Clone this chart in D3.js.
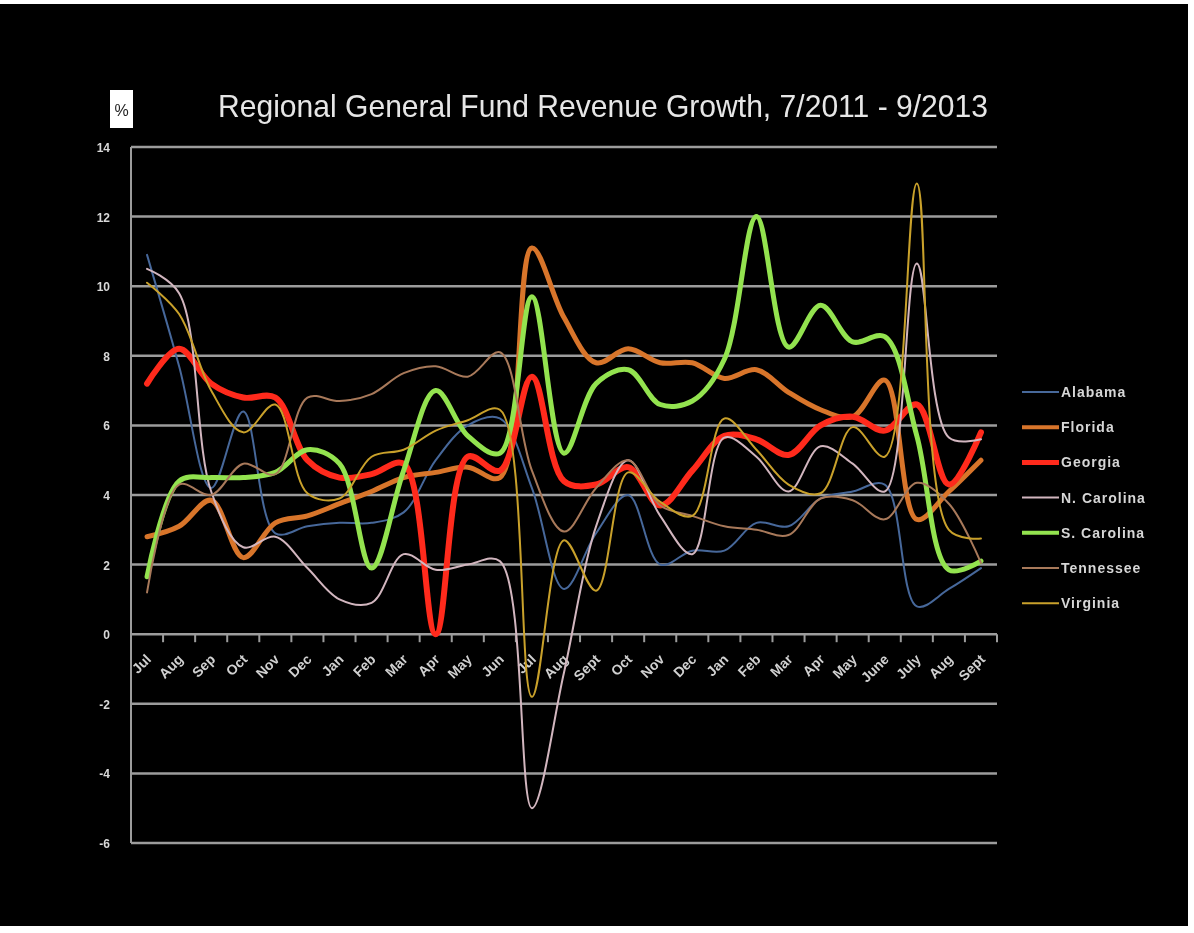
<!DOCTYPE html>
<html>
<head>
<meta charset="utf-8">
<script src="https://cdn.jsdelivr.net/npm/d3@7"></script>
<style>
    body { margin: 0; background: #fff; }
    svg { display: block; }
    text { font-family: "Liberation Sans", Arial, sans-serif; }
</style>
</head>
<body>
<div class="chart"></div>
<script>
// month labels, Jul 2011 .. Sep 2013
var months = ["Jul", "Aug", "Sep", "Oct", "Nov", "Dec", "Jan", "Feb", "Mar", "Apr", "May", "Jun",
    "Jul", "Aug", "Sept", "Oct", "Nov", "Dec", "Jan", "Feb", "Mar", "Apr", "May", "June", "July", "Aug", "Sept"];
var yTicks = [-6, -4, -2, 0, 2, 4, 6, 8, 10, 12, 14];

var states = ["Alabama", "Florida", "Georgia", "N. Carolina", "S. Carolina", "Tennessee", "Virginia"];

var alabama = [10.9, 7.7, 4.2, 6.4, 2.9, 3.1, 3.2, 3.2, 3.5, 5.0, 6.0, 6.2, 4.2, 1.3, 2.9, 4.0, 2.0, 2.4, 2.4, 3.2, 3.1, 3.9, 4.1, 4.3, 0.8, 1.3, 1.9];
var florida = [2.8, 3.1, 3.85, 2.2, 3.2, 3.4, 3.75, 4.1, 4.5, 4.65, 4.8, 4.5, 11.1, 9.1, 7.8, 8.2, 7.8, 7.8, 7.35, 7.6, 6.95, 6.45, 6.25, 7.3, 3.3, 4.1, 5.0];
var georgia = [7.2, 8.2, 7.2, 6.8, 6.8, 5.0, 4.5, 4.6, 4.9, 0.0, 5.1, 4.7, 7.4, 4.4, 4.3, 4.8, 3.7, 4.7, 5.7, 5.6, 5.15, 6.0, 6.25, 5.85, 6.6, 4.3, 5.8];
var nCarolina = [10.5, 9.8, 4.1, 2.5, 2.8, 1.9, 1.0, 0.9, 2.3, 1.85, 2.0, 2.1, -5.0, -1.1, 3.1, 5.0, 3.4, 2.3, 5.65, 5.1, 4.1, 5.4, 4.9, 4.1, 10.65, 5.65, 5.6];
var sCarolina = [1.65, 4.4, 4.5, 4.5, 4.65, 5.3, 4.9, 1.9, 4.7, 7.0, 5.7, 5.2, 9.7, 5.2, 7.2, 7.6, 6.6, 6.7, 7.9, 12.0, 8.25, 9.45, 8.4, 8.55, 5.7, 1.85, 2.1];
var tennessee = [1.2, 4.3, 4.0, 4.9, 4.6, 6.8, 6.7, 6.9, 7.5, 7.7, 7.4, 8.1, 4.7, 2.95, 4.2, 5.0, 3.7, 3.4, 3.1, 3.0, 2.85, 3.9, 3.85, 3.3, 4.35, 3.75, 2.05];
var virginia = [10.1, 9.2, 7.0, 5.8, 6.6, 4.05, 3.9, 5.1, 5.3, 5.85, 6.15, 6.45, -1.8, 2.7, 1.25, 4.65, 3.8, 3.4, 6.2, 5.3, 4.3, 4.05, 5.95, 5.1, 12.95, 3.0, 2.75];

var seriesData = [alabama, florida, georgia, nCarolina, sCarolina, tennessee, virginia];
var colors = ["#46679a", "#d8742c", "#ff2a1a", "#d2b6bf", "#93e34f", "#a8795a", "#c9a12c"];
var widths = [2, 5, 6, 2, 5, 2, 2];

var width = 1194, height = 933;
var svg = d3.select(".chart").append("svg").attr("width", width).attr("height", height);

svg.append("defs").append("filter").attr("id", "soft")
    .append("feGaussianBlur").attr("stdDeviation", 0.6);

svg.append("rect").attr("x", 0).attr("y", 4).attr("width", 1188).attr("height", 922).attr("fill", "#000");

var root = svg.append("g").attr("filter", "url(#soft)");

var x = d3.scaleBand().domain(d3.range(months.length)).range([131, 997]);
var y = d3.scaleLinear().domain([-6, 14]).range([843, 147]);

// title + % box
root.append("text")
    .attr("x", 218).attr("y", 117)
    .attr("textLength", 770).attr("lengthAdjust", "spacingAndGlyphs")
    .attr("font-size", 32).attr("fill", "#e6e6e6")
    .text("Regional General Fund Revenue Growth, 7/2011 - 9/2013");
root.append("rect").attr("x", 110).attr("y", 90).attr("width", 23).attr("height", 38).attr("fill", "#fff");
root.append("text").attr("x", 121.5).attr("y", 116).attr("text-anchor", "middle")
    .attr("font-size", 16).attr("fill", "#222").text("%");

// gridlines
root.append("g").selectAll("line").data(yTicks).enter().append("line")
    .attr("x1", 131).attr("x2", 997)
    .attr("y1", function (d) { return y(d); }).attr("y2", function (d) { return y(d); })
    .attr("stroke", "#9c9c9c").attr("stroke-width", 2.5);

root.append("line").attr("x1", 131).attr("x2", 131).attr("y1", y(14)).attr("y2", y(-6))
    .attr("stroke", "#9c9c9c").attr("stroke-width", 2);

// y labels
root.append("g").selectAll("text").data(yTicks).enter().append("text")
    .attr("x", 110).attr("y", function (d) { return y(d) + 5; })
    .attr("text-anchor", "end").attr("font-size", 12).attr("font-weight", "bold")
    .attr("fill", "#d8d8d8")
    .text(function (d) { return d; });

// x axis ticks at band edges
root.append("g").selectAll("line").data(d3.range(1, months.length + 1)).enter().append("line")
    .attr("x1", function (d) { return d < months.length ? x(d) : x.range()[1]; })
    .attr("x2", function (d) { return d < months.length ? x(d) : x.range()[1]; })
    .attr("y1", y(0)).attr("y2", y(0) + 8)
    .attr("stroke", "#9c9c9c").attr("stroke-width", 2);

// month labels
root.append("g").selectAll("text").data(d3.range(months.length)).enter().append("text")
    .attr("transform", function (i) {
        return "translate(" + (x(i) + x.bandwidth() / 2 + 5) + "," + (y(0) + 26) + ") rotate(-45)";
    })
    .attr("text-anchor", "end").attr("font-size", 14).attr("font-weight", "bold")
    .attr("fill", "#d0d0d0")
    .text(function (i) { return months[i]; });

// series
var line = d3.line()
    .x(function (d, i) { return x(i) + x.bandwidth() / 2; })
    .y(function (d) { return y(d); })
    .curve(d3.curveCatmullRom.alpha(0.5));

root.append("g").selectAll("path").data(seriesData).enter().append("path")
    .attr("d", line)
    .attr("fill", "none")
    .attr("stroke", function (d, i) { return colors[i]; })
    .attr("stroke-width", function (d, i) { return widths[i]; })
    .attr("stroke-linejoin", "round").attr("stroke-linecap", "round");

// legend
var legend = root.append("g").selectAll("g").data(states).enter().append("g")
    .attr("transform", function (d, i) { return "translate(1022," + (392 + i * 35.2) + ")"; });
legend.append("line").attr("x1", 0).attr("x2", 37).attr("y1", 0).attr("y2", 0)
    .attr("stroke", function (d, i) { return colors[i]; })
    .attr("stroke-width", function (d, i) { return Math.max(2, widths[i] - 1); });
legend.append("text").attr("x", 39).attr("y", 5)
    .attr("font-size", 14).attr("font-weight", "bold").attr("letter-spacing", 1)
    .attr("fill", "#d6d6d6")
    .text(function (d) { return d; });
</script>
</body>
</html>
